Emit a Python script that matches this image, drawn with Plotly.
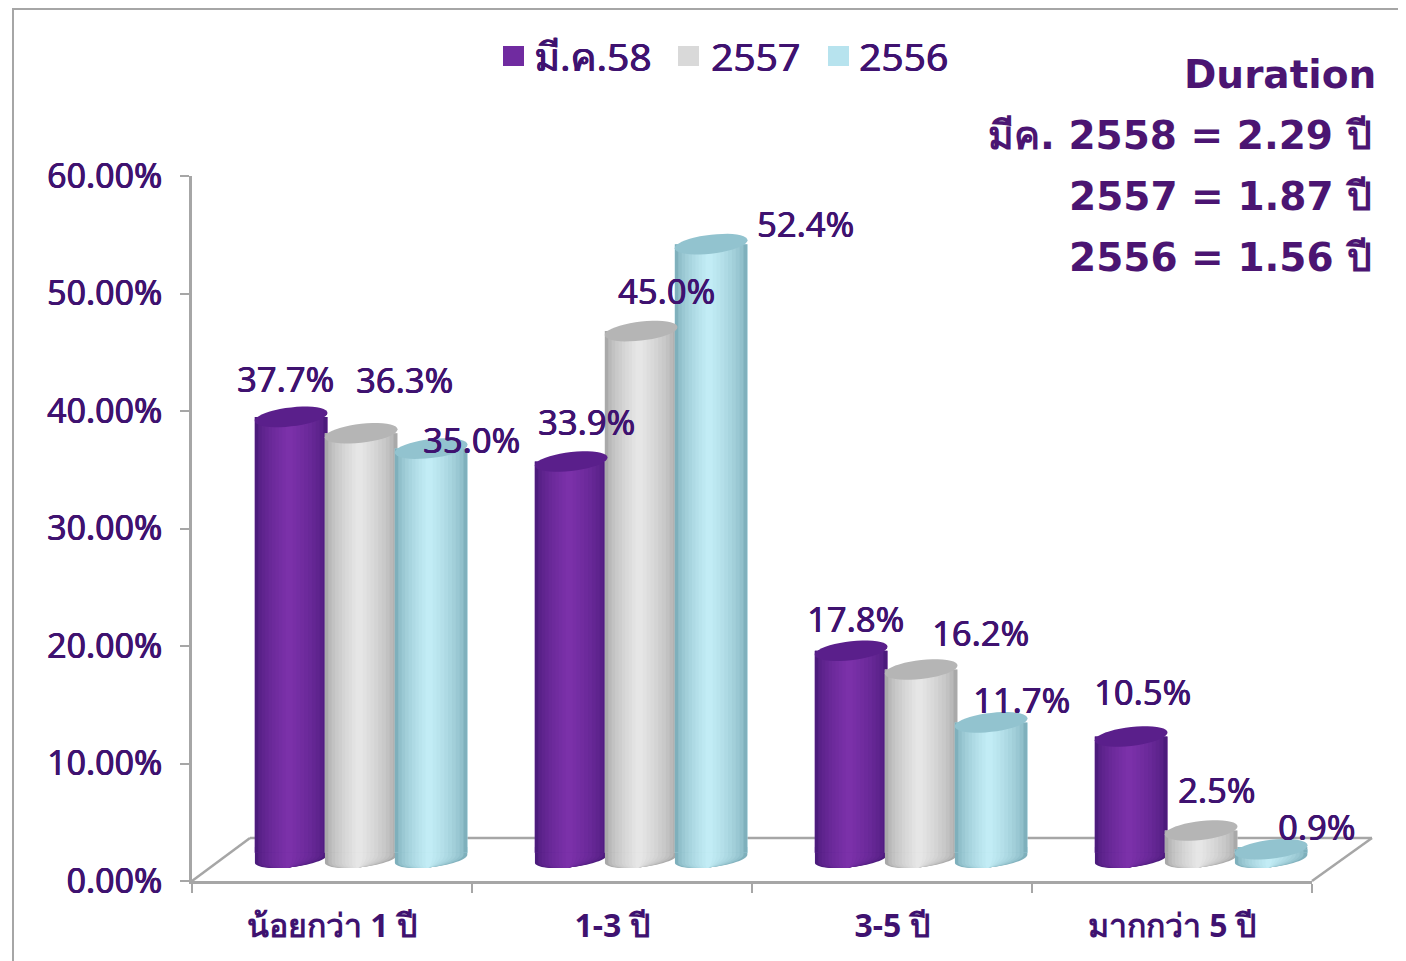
import math
import plotly.graph_objects as go

# Chart values
categories = ["น้อยกว่า 1 ปี", "1-3 ปี", "3-5 ปี", "มากกว่า 5 ปี"]
series_names = ["มี.ค.58", "2557", "2556"]
values_2558 = [37.7, 33.9, 17.8, 10.5]
values_2557 = [36.3, 45.0, 16.2, 2.5]
values_2556 = [35.0, 52.4, 11.7, 0.9]
y_ticks = [0, 10, 20, 30, 40, 50, 60]
y_tick_labels = ["0.00%", "10.00%", "20.00%", "30.00%", "40.00%", "50.00%", "60.00%"]
duration_lines = ["Duration", "มีค. 2558 = 2.29 ปี", "2557 = 1.87 ปี", "2556 = 1.56 ปี"]

# Label nudges in pixels from the top of each cylinder
label_dx = [[-6, 15, 4, 11], [43, 25, 59, 15], [40, 94, 30, 45]]
label_dy = [[37, 39, 31, 44], [53, 39, 36, 40], [8, 19, 22, 22]]

TEXT = "#3f1270"
AXIS_GREY = "#a6a6a6"
THICK = "0.5px 0 0 #3f1270, -0.3px 0 0 #3f1270"  # the source text looks slightly heavy
THAI_FONT = "Noto Sans, Liberation Sans, sans-serif"
DURATION_FONT = "DejaVu Sans, Noto Sans, sans-serif"

# Plot area in pixels of the final picture; the page body adds an 8px margin
LEFT, RIGHT, TOP, BOTTOM = 192, 1312, 176, 881
PAGE_MARGIN = 8
PX_X = (RIGHT - LEFT) / 4
PX_Y = (BOTTOM - TOP) / 60

BAR_OFFSETS = [-0.146, 0.104, 0.354]
BAR_WIDTH = 0.26
DEPTH = 1.9          # bars stand this far up the floor
TOP_DEPTH = 1.8
CAP_H = 8.5 / PX_Y
TOP_CAP_H = 9.5 / PX_Y
CAP_TILT = 4 / PX_Y
LAYERS = 10

# edge colour, middle colour, cap colour, legend colour
palettes = [
    ("#4c1b7c", "#7b31a9", "#5a1f8b", "#702ba0"),
    ("#a9a9a9", "#e6e6e6", "#b5b5b5", "#d9d9d9"),
    ("#7fb0bc", "#c2ecf5", "#92c3cf", "#b7e3ee"),
]
all_values = [values_2558, values_2557, values_2556]


def mix(c1, c2, t):
    a = [int(c1[i:i + 2], 16) for i in (1, 3, 5)]
    b = [int(c2[i:i + 2], 16) for i in (1, 3, 5)]
    return "rgb(%d,%d,%d)" % tuple(round(p + (q - p) * t) for p, q in zip(a, b))


def ellipse_path(cx, cy, half_w, half_h, start=0.0, end=2 * math.pi, extra=None):
    pts = []
    for i in range(41):
        t = start + (end - start) * i / 40
        pts.append((cx + half_w * math.cos(t),
                    cy + half_h * math.sin(t) + CAP_TILT * math.cos(t)))
    if extra:
        pts += extra
    return "M " + " L ".join("%.4f,%.4f" % p for p in pts) + " Z"


def px_x(px):
    return (px - LEFT) / (RIGHT - LEFT)


def px_y(py):
    return (BOTTOM - py) / (BOTTOM - TOP)


def paper_line(x0, y0, x1, y1, width=2.5):
    return dict(type="line", xref="paper", yref="paper", x0=px_x(x0), y0=px_y(y0),
                x1=px_x(x1), y1=px_y(y1), line=dict(color=AXIS_GREY, width=width),
                layer="below")


fig = go.Figure()
shapes = [
    paper_line(13, 9, 1406, 9, 2),
    paper_line(13, 8, 13, 961, 2),
    paper_line(LEFT, BOTTOM, 250, 838),
    paper_line(250, 838, 1372, 838),
    paper_line(1372, 838, RIGHT, BOTTOM),
]
annotations = []
xs = list(range(len(categories)))

for s, (name, vals) in enumerate(zip(series_names, all_values)):
    edge, mid, cap, swatch = palettes[s]
    off = BAR_OFFSETS[s]
    heights = [v + TOP_DEPTH - DEPTH - 0.5 for v in vals]
    fig.add_trace(go.Bar(x=xs, y=heights, base=DEPTH + 0.5, name=name,
                         width=BAR_WIDTH, offset=off - BAR_WIDTH / 2, showlegend=False,
                         marker=dict(color=swatch, line=dict(width=0)), hoverinfo="skip"))
    for k in range(LAYERS):
        frac = 1 - k / LAYERS
        w = BAR_WIDTH * frac * 0.995
        c = off - 0.008 * (1 - frac)
        color = mix(edge, mid, min(1.0, (k / (LAYERS - 1)) ** 0.6))
        fig.add_trace(go.Bar(x=xs, y=heights, base=DEPTH + 0.5,
                             width=w, offset=c - w / 2, showlegend=False,
                             marker=dict(color=color, line=dict(width=0)), hoverinfo="skip"))
        for i in xs:
            shapes.append(dict(type="path", xref="x", yref="y", layer="below",
                               path=ellipse_path(i + c, DEPTH, w / 2, CAP_H, math.pi, 2 * math.pi,
                                                 [(i + c + w / 2, DEPTH + 1), (i + c - w / 2, DEPTH + 1)]),
                               fillcolor=color, line=dict(width=0)))
    for i, v in enumerate(vals):
        shapes.append(dict(type="path", xref="x", yref="y", layer="above",
                           path=ellipse_path(i + off, v + TOP_DEPTH, BAR_WIDTH / 2, TOP_CAP_H),
                           fillcolor=cap, line=dict(width=0)))
        annotations.append(dict(x=i + off, y=v + DEPTH, xref="x", yref="y", text="%.1f%%" % v,
                                showarrow=False, xshift=label_dx[s][i], yshift=label_dy[s][i],
                                font=dict(family=THAI_FONT, size=34.5, color=TEXT, shadow=THICK)))

# Legend row: big square swatches with the series name beside them
for s, (name, swatch_px, text_px) in enumerate(zip(series_names, [503, 678, 828], [532, 709, 857])):
    shapes.append(dict(type="rect", xref="paper", yref="paper", layer="above",
                       x0=px_x(swatch_px), x1=px_x(swatch_px + 21), y0=px_y(66), y1=px_y(46),
                       fillcolor=palettes[s][3], line=dict(width=0)))
    annotations.append(dict(x=px_x(text_px), y=px_y(56), xref="paper", yref="paper", text=name,
                            xanchor="left", yanchor="middle", showarrow=False,
                            font=dict(family=THAI_FONT, size=39, color=TEXT, shadow=THICK)))

# Duration block, right aligned
for line, py, right_px in zip(duration_lines, [74, 135, 196, 257], [1378, 1374, 1374, 1374]):
    annotations.append(dict(x=px_x(right_px), y=px_y(py), xref="paper", yref="paper", text=line,
                            xanchor="right", yanchor="middle", showarrow=False,
                            font=dict(family=DURATION_FONT, size=39, color="#4b1572", weight="bold")))

fig.update_layout(
    width=1406 - PAGE_MARGIN,
    height=961 - PAGE_MARGIN,
    margin=dict(l=LEFT - PAGE_MARGIN, r=1406 - RIGHT, t=TOP - PAGE_MARGIN, b=961 - BOTTOM,
                autoexpand=False),
    paper_bgcolor="white",
    plot_bgcolor="rgba(0,0,0,0)",
    barmode="overlay",
    shapes=shapes,
    annotations=annotations,
    showlegend=False,
    xaxis=dict(range=[-0.5, 3.5], tickmode="array", tickvals=xs, ticktext=categories,
               ticks="", showgrid=False, zeroline=False, showline=True, linecolor=AXIS_GREY,
               linewidth=3, ticklabelstandoff=15,
               tickfont=dict(family=THAI_FONT, size=32, color=TEXT, weight="bold"),
               minor=dict(ticks="outside", tick0=-0.5, dtick=1, ticklen=9, tickwidth=2,
                          tickcolor=AXIS_GREY, showgrid=False)),
    yaxis=dict(range=[0, 60], tickmode="array", tickvals=y_ticks, ticktext=y_tick_labels,
               ticks="outside", ticklen=9, tickwidth=2, tickcolor=AXIS_GREY,
               showgrid=False, zeroline=False, showline=True, linecolor=AXIS_GREY, linewidth=3,
               ticklabelstandoff=11,
               tickfont=dict(family=THAI_FONT, size=34, color=TEXT, shadow=THICK)),
)

fig.write_html("out.html")
